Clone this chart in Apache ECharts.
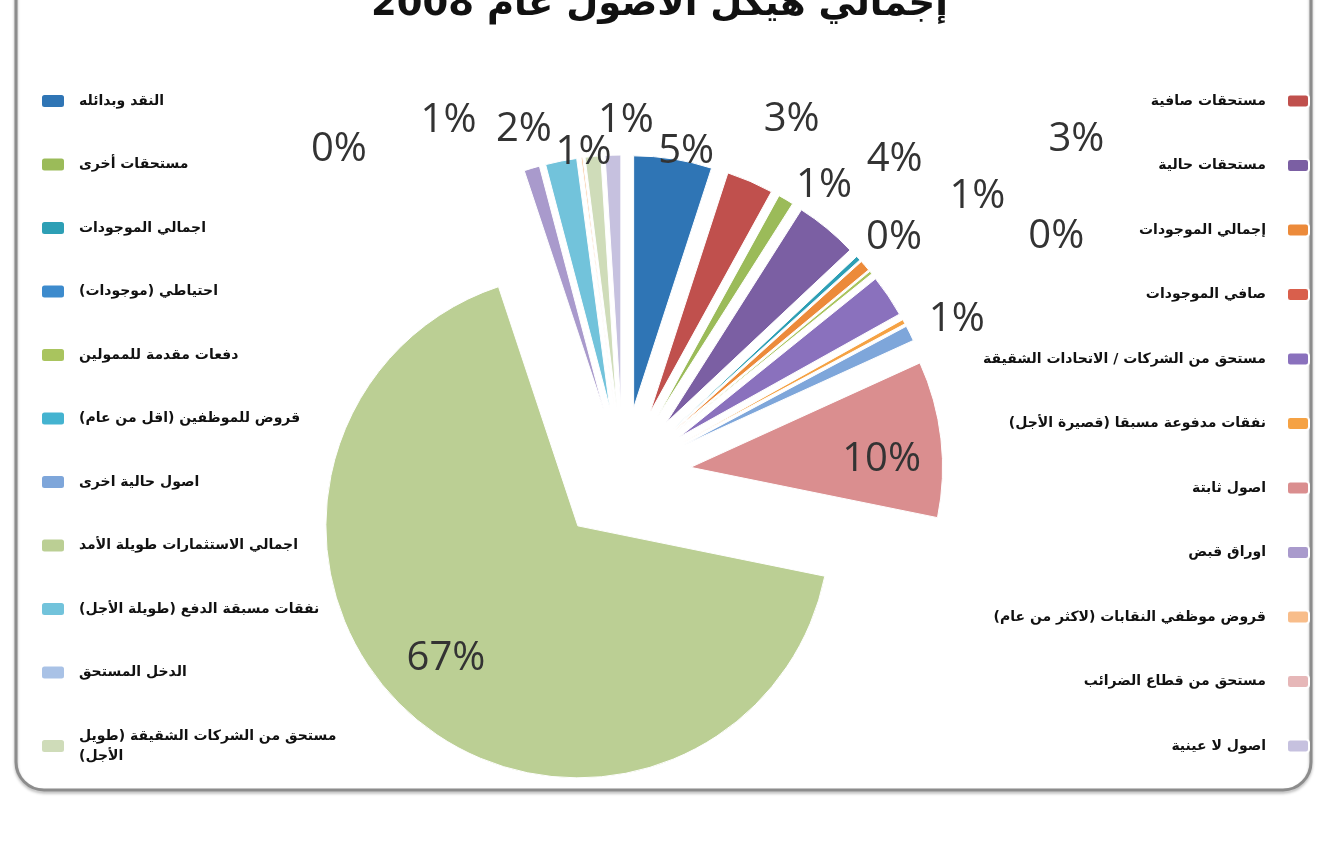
<!DOCTYPE html>
<html dir="rtl" lang="ar">
<head>
<meta charset="utf-8">
<script src="https://cdn.jsdelivr.net/npm/echarts@6/dist/echarts.min.js"></script>
<style>
  html, body { margin: 0; padding: 0; background: #ffffff; overflow: hidden; }
  #chart { width: 1319px; height: 859px; }
</style>
</head>
<body>
<div id="chart"></div>
<script>
// Asset structure, shares in tenths of a percent (blank = no amount reported)
const titleText = 'إجمالي هيكل الأصول عام 2008';

const categories = [
  'النقد وبدائله',
  'مستحقات صافية',
  'مستحقات أخرى',
  'مستحقات حالية',
  'اجمالي الموجودات',
  'إجمالي الموجودات',
  'احتياطي (موجودات)',
  'صافي الموجودات',
  'دفعات مقدمة للممولين',
  'مستحق من الشركات / الاتحادات الشقيقة',
  'قروض للموظفين (اقل من عام)',
  'نفقات مدفوعة مسبقا (قصيرة الأجل)',
  'اصول حالية اخرى',
  'اصول ثابتة',
  'اجمالي الاستثمارات طويلة الأمد',
  'اوراق قبض',
  'نفقات مسبقة الدفع (طويلة الأجل)',
  'قروض موظفي النقابات (لاكثر من عام)',
  'الدخل المستحق',
  'مستحق من قطاع الضرائب',
  'مستحق من الشركات الشقيقة (طويل الأجل)',
  'اصول لا عينية'
];

const shares = [50, 30, 10, 40, 3, 7, '-', '-', 2, 27, '-', 3, 10, 100, 667, 10, 20, 1, '-', '-', 10, 10];

// Styling (kept apart from the values)
const colors = [
  '#2f75b5', '#c0504d', '#9bbb59', '#7b5fa3', '#2d9fb5', '#ec8a3a',
  '#3d8bcd', '#d95f4c', '#a9c45e', '#8a71bd', '#44b3d0', '#f5a244',
  '#7ea6da', '#da8e8f', '#bbcf94', '#a99acc', '#72c3db', '#f8bd8a',
  '#a9c2e6', '#e6b7b8', '#cfdcb9', '#c6c1df'
];
// radial / horizontal reach of each percentage label beyond the slice edge
const labelReach = [7, 67, 16, 89, 31, 105, 0, 0, 0, 279, 0, 177, 30, -188, -75, 50, 32, 8, 0, 0, 4, 35];
const labelShift = [-21, -18, -3, -22, -20, 0, 0, 0, 0, -76, 0, -36, -13, 83, -30, 36, -2, 209, 0, 0, -24, -47];
const quietLabels = [8];

const legendLeft = categories.filter((_, i) => i % 2 === 0);
const legendRight = categories.filter((_, i) => i % 2 === 1);

const arabicFont = '"DejaVu Sans", "Noto Sans", sans-serif';

const pieData = categories.map((name, i) => {
  const missing = shares[i] === '-';
  return {
    name: name,
    value: shares[i],
    selected: true,
    itemStyle: { color: colors[i] },
    label: { show: !missing && quietLabels.indexOf(i) < 0 },
    labelLine: { show: false, length: labelReach[i], length2: labelShift[i] }
  };
});

const legendText = {
  fontFamily: arabicFont,
  fontWeight: 'bold',
  fontSize: 14,
  lineHeight: 20,
  color: '#111111'
};

function wrapLegend(name) {
  if (name === categories[20]) {
    return 'مستحق من الشركات الشقيقة (طويل\nالأجل)';
  }
  return name;
}

const chart = echarts.init(document.getElementById('chart'), null, { renderer: 'canvas' });

chart.setOption({
  backgroundColor: '#ffffff',
  animation: false,
  title: {
    text: titleText,
    left: 'center',
    top: -18,
    textStyle: {
      fontFamily: arabicFont,
      fontWeight: 'bold',
      fontSize: 37,
      color: '#111111'
    }
  },
  graphic: [{
    type: 'rect',
    silent: true,
    z: -10,
    shape: { x: 16, y: -40, width: 1295, height: 830, r: 28 },
    style: {
      fill: 'none',
      stroke: '#8c8c8c',
      lineWidth: 3,
      shadowBlur: 3,
      shadowOffsetY: 2,
      shadowColor: 'rgba(0,0,0,0.3)'
    }
  }],
  legend: [{
    data: legendLeft,
    orient: 'vertical',
    left: 35,
    top: 86,
    align: 'left',
    itemWidth: 24,
    itemHeight: 14,
    itemGap: 43.5,
    selectedMode: false,
    formatter: wrapLegend,
    textStyle: Object.assign({ padding: [0, 0, 0, 9] }, legendText)
  }, {
    data: legendRight,
    orient: 'vertical',
    right: 4,
    top: 86,
    align: 'right',
    itemWidth: 22,
    itemHeight: 13,
    itemGap: 44.5,
    selectedMode: false,
    textStyle: Object.assign({ padding: [0, 16, 0, 0] }, legendText)
  }],
  series: [{
    type: 'pie',
    center: [623, 475],
    radius: 252,
    startAngle: 90,
    clockwise: true,
    selectedMode: 'multiple',
    selectedOffset: 68,
    avoidLabelOverlap: false,
    labelLayout: { hideOverlap: false },
    percentPrecision: 0,
    itemStyle: { borderColor: '#ffffff', borderWidth: 1 },
    select: { itemStyle: { borderColor: '#ffffff', borderWidth: 1 } },
    emphasis: { disabled: true },
    label: {
      position: 'outside',
      formatter: '{d}%',
      fontFamily: '"Open Sans", sans-serif',
      fontSize: 40,
      color: '#333333'
    },
    labelLine: { show: false },
    data: pieData
  }]
});
</script>
</body>
</html>
